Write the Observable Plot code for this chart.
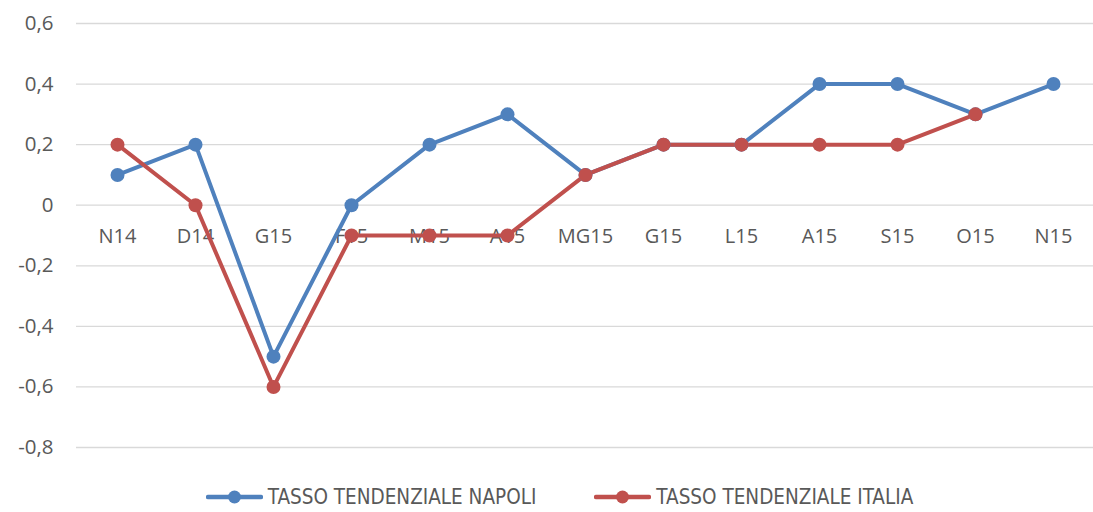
<!DOCTYPE html>
<html><head><meta charset="utf-8">
<script src="https://cdn.jsdelivr.net/npm/d3@7"></script>
<script src="https://cdn.jsdelivr.net/npm/@observablehq/plot@0.6"></script>
<style>
body{margin:0;background:#fff;width:1093px;height:512px;overflow:hidden;font-family:"Open Sans",sans-serif;}
#legend{display:flex;justify-content:center;align-items:center;height:54px;padding-left:26px;color:#595959;font-family:"DejaVu Sans Condensed","DejaVu Sans",sans-serif;font-stretch:condensed;font-size:20.5px;}
.item{display:flex;align-items:center;margin:0 29px;}
.item svg{margin-right:5px;}
</style></head><body>
<div id="chart"></div>
<div id="legend"></div>
<script>
const categories = ["N14","D14","G15","F15","M15","A15","MG15","G15","L15","A15","S15","O15","N15"];
const napoli = [0.1,0.2,-0.5,0,0.2,0.3,0.1,0.2,0.2,0.4,0.4,0.3,0.4];
const italia = [0.2,0,-0.6,-0.1,-0.1,-0.1,0.1,0.2,0.2,0.2,0.2,0.3,null];
const yTicks = [-0.8,-0.6,-0.4,-0.2,0,0.2,0.4,0.6];
const seriesNames = ["TASSO TENDENZIALE NAPOLI","TASSO TENDENZIALE ITALIA"];
const colors = ["#4F81BD","#C0504D"];

const keys = categories.map((c,i)=>i);
const rows = [];
keys.forEach(i=>{
  rows.push({k:i, v:napoli[i], s:seriesNames[0]});
  if (italia[i] != null) rows.push({k:i, v:italia[i], s:seriesNames[1]});
});
const fmt = v => v === 0 ? "0" : d3.format(".1f")(v).replace(".", ",").replace("−","-");

const plot = Plot.plot({
  width:1093, height:470,
  marginLeft:76, marginRight:0, marginTop:23, marginBottom:23,
  style:{fontFamily:"Open Sans, sans-serif", fontSize:"16px", color:"#595959", background:"#fff"},
  x:{type:"point", domain:keys, padding:0.5, axis:null},
  y:{domain:[-0.8,0.6], axis:null},
  color:{domain:seriesNames, range:colors},
  marks:[
    Plot.ruleY(yTicks, {stroke:"#d9d9d9", strokeWidth:1.3}),
    Plot.text(yTicks, {frameAnchor:"left", y:d=>d, text:fmt, dx:-23, textAnchor:"end", fill:"#595959", fontSize:20.5}),
    Plot.text(keys, {x:d=>d, y:()=>0, text:d=>categories[d], dy:31, fill:"#595959", fontSize:20}),
    Plot.line(rows, {x:"k", y:"v", stroke:"s", z:"s", strokeWidth:4, curve:"linear"}),
    Plot.dot(rows, {x:"k", y:"v", fill:"s", r:7})
  ]
});
document.getElementById("chart").appendChild(plot);

const leg = document.getElementById("legend");
seriesNames.forEach((n,i)=>{
  const d = document.createElement("div");
  d.className="item";
  d.innerHTML = `<svg width="57" height="18"><line x1="2" y1="9" x2="55" y2="9" stroke="${colors[i]}" stroke-width="4.5" stroke-linecap="round"/><circle cx="28.5" cy="9" r="6.5" fill="${colors[i]}"/></svg><span>${n}</span>`;
  leg.appendChild(d);
});
</script>
</body></html>
